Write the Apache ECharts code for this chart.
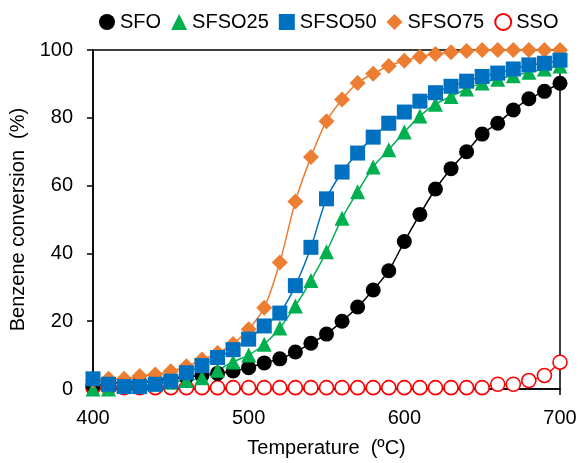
<!DOCTYPE html>
<html>
<head>
<meta charset="utf-8">
<script src="https://cdn.jsdelivr.net/npm/echarts@6/dist/echarts.min.js"></script>
<style>
  html, body { margin: 0; padding: 0; background: #fff; }
  #chart { width: 581px; height: 463px; }
</style>
</head>
<body>
<div id="chart"></div>
<script>
// temperature steps (ºC)
var temps = [400, 410, 420, 430, 440, 450, 460, 470, 480, 490, 500, 510, 520, 530, 540, 550,
             560, 570, 580, 590, 600, 610, 620, 630, 640, 650, 660, 670, 680, 690, 700];
// benzene conversion (%)
var sfo = [1, 1.5, 2, 2, 2.5, 3, 3.5, 4, 4.6, 5.3, 6.3, 7.7, 8.9, 10.9, 13.5, 16.2,
           20, 24.2, 29.2, 34.9, 43.5, 51.5, 59, 65, 70, 75.2, 78.4, 82.3, 85.6, 87.8, 90.2];
var sfso25 = [0, 0, 1, 1, 1.5, 2, 2.5, 3.3, 5.5, 8, 10, 13.2, 18, 24.5, 32, 40.5,
              50.4, 58.2, 65.5, 70.6, 75.8, 80.5, 84, 86.3, 88.5, 90.3, 91.4, 92.4, 93.4, 94.4, 95.3];
var sfso50 = [3, 1.4, 0.7, 0.7, 1.4, 2.3, 4.8, 6.9, 9.3, 11.6, 14.7, 18.6, 22.4, 30.5, 41.8, 56.1,
              64, 69.6, 74.3, 78.4, 81.7, 84.9, 87.4, 89.3, 90.8, 92.2, 93.2, 94.4, 95.6, 96.1, 97];
var sfso75 = [2.5, 3, 3, 3.8, 4.3, 5.2, 6.7, 8.7, 10.6, 13.3, 17.6, 24, 37.3, 55.3, 68.4, 79,
              85.4, 90.3, 93, 95.3, 96.8, 98, 98.8, 99.3, 99.7, 100, 100, 100, 100, 100, 100];
var sso = [0.4, 0.4, 0.4, 0.4, 0.4, 0.4, 0.4, 0.4, 0.4, 0.4, 0.4, 0.4, 0.4, 0.4, 0.4, 0.4,
           0.4, 0.4, 0.4, 0.4, 0.4, 0.4, 0.4, 0.4, 0.4, 0.4, 1.4, 1.4, 2.5, 4, 7.9];
var yTicks = [0, 20, 40, 60, 80, 100];

var font = "'Liberation Sans', Arial, sans-serif";

function pairs(vals) {
    return vals.map(function (v, i) { return [temps[i], v]; });
}

function makeSeries(name, vals, symbol, size, color, empty) {
    return {
        name: name,
        type: 'line',
        smooth: 0.3,
        data: pairs(vals),
        symbol: symbol,
        symbolSize: size,
        showAllSymbol: true,
        lineStyle: { color: color, width: 1.5 },
        itemStyle: empty
            ? { color: '#fff', borderColor: color, borderWidth: 1.6 }
            : { color: color, borderWidth: 0 }
    };
}

var chart = echarts.init(document.getElementById('chart'));

var option = {
    backgroundColor: '#fff',
    animation: false,
    textStyle: { fontFamily: font },
    legend: {
        top: 7,
        left: 94,
        itemWidth: 16,
        itemHeight: 16,
        itemGap: 10,
        textStyle: { fontSize: 20, color: '#000', fontFamily: font },
        data: [
            { name: 'SFO', icon: 'circle' },
            { name: 'SFSO25', icon: 'triangle' },
            { name: 'SFSO50', icon: 'rect' },
            { name: 'SFSO75', icon: 'diamond' },
            { name: 'SSO', icon: 'circle' }
        ]
    },
    grid: {
        left: 93,
        right: 21,
        top: 50,
        bottom: 70,
        show: true,
        borderColor: '#000',
        borderWidth: 1.5
    },
    xAxis: {
        type: 'value',
        min: 400,
        max: 700,
        interval: 100,
        name: 'Temperature  (ºC)',
        nameLocation: 'middle',
        nameGap: 49,
        nameTextStyle: { fontSize: 20, color: '#000', fontFamily: font },
        axisLine: { lineStyle: { color: '#000', width: 1.5 } },
        axisTick: { show: true, length: 6, lineStyle: { color: '#000', width: 1.5 } },
        axisLabel: { fontSize: 20, color: '#000', margin: 19, fontFamily: font },
        splitLine: { show: false }
    },
    yAxis: {
        type: 'value',
        min: yTicks[0],
        max: yTicks[yTicks.length - 1],
        interval: 20,
        name: 'Benzene conversion  (%)',
        nameLocation: 'middle',
        nameGap: 58,
        nameTextStyle: { fontSize: 20, color: '#000', fontFamily: font },
        axisLine: { show: true, lineStyle: { color: '#000', width: 1.5 } },
        axisTick: { show: true, length: 6, lineStyle: { color: '#000', width: 1.5 } },
        axisLabel: { fontSize: 20, color: '#000', margin: 20, fontFamily: font },
        splitLine: { show: false }
    },
    series: [
        makeSeries('SSO', sso, 'circle', 14, '#FF0000', true),
        makeSeries('SFO', sfo, 'circle', 15, '#000000'),
        makeSeries('SFSO25', sfso25, 'triangle', 15, '#00B050'),
        makeSeries('SFSO75', sfso75, 'diamond', 16, '#ED7D31'),
        makeSeries('SFSO50', sfso50, 'rect', 15, '#0070C0')
    ]
};

chart.setOption(option);
</script>
</body>
</html>
